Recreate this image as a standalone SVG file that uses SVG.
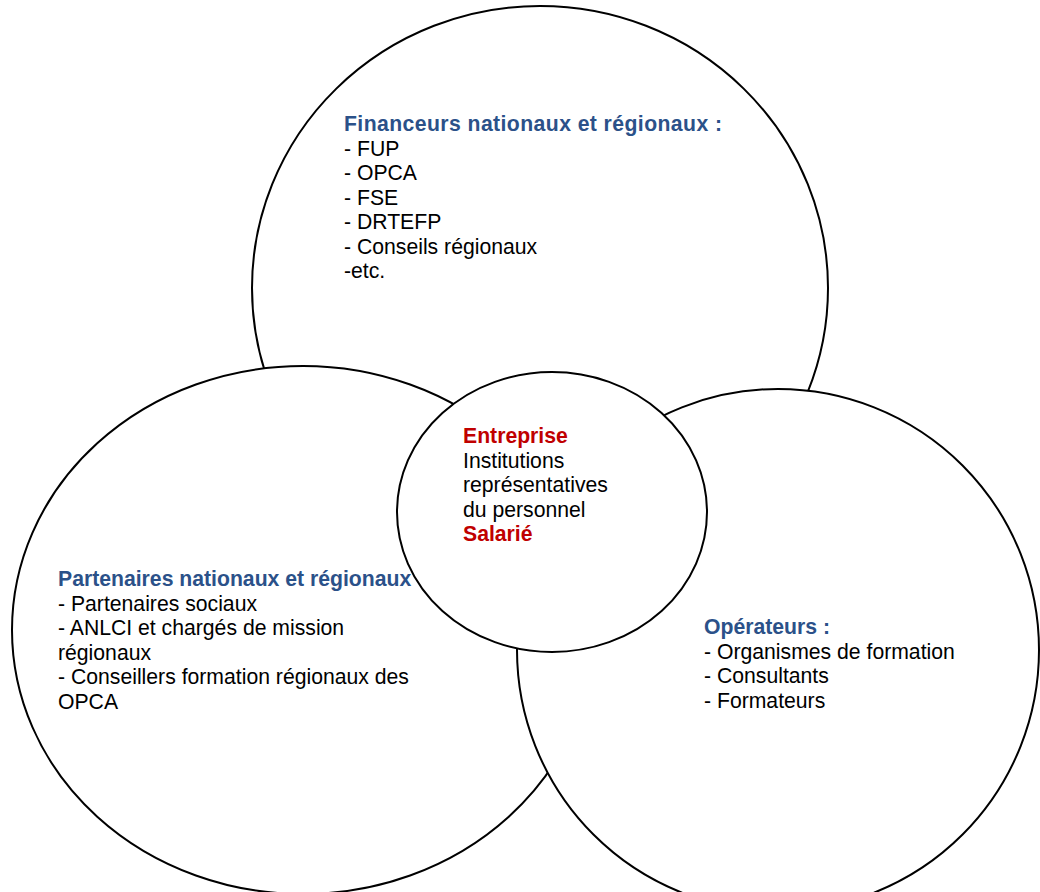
<svg xmlns="http://www.w3.org/2000/svg" width="1040" height="892" viewBox="0 0 1040 892">
<style>
.c{fill:#fff;stroke:#000;stroke-width:2}
text{font-family:"Liberation Sans",Arial,sans-serif;font-size:21.2px;fill:#000}
.h{font-weight:bold;fill:#2B5189}
.r{font-weight:bold;fill:#C00000}
</style>
<rect width="1040" height="892" fill="#fff"/>
<g id="financeurs"><ellipse class="c" cx="540" cy="288" rx="288" ry="282"/></g>
<g id="partenaires"><ellipse class="c" cx="303" cy="630" rx="291" ry="264"/></g>
<g id="operateurs"><ellipse class="c" cx="778" cy="650" rx="261" ry="261"/></g>
<g id="entreprise"><ellipse class="c" cx="552" cy="512" rx="155" ry="140"/></g>
<g id="connectors"></g>
<g id="financeurs-text">
<text x="344" y="131" class="h" textLength="378">Financeurs nationaux et régionaux :</text>
<text x="344" y="155.5">- FUP</text>
<text x="344" y="180">- OPCA</text>
<text x="344" y="204.5">- FSE</text>
<text x="344" y="229">- DRTEFP</text>
<text x="344" y="253.5">- Conseils régionaux</text>
<text x="344" y="278">-etc.</text>
</g>
<g id="entreprise-text">
<text x="463" y="443" class="r">Entreprise</text>
<text x="463" y="467.5">Institutions</text>
<text x="463" y="492">représentatives</text>
<text x="463" y="516.5">du personnel</text>
<text x="463" y="541" class="r">Salarié</text>
</g>
<g id="partenaires-text">
<text x="58" y="586" class="h">Partenaires nationaux et régionaux</text>
<text x="58" y="610.5">- Partenaires sociaux</text>
<text x="58" y="635">- ANLCI et chargés de mission</text>
<text x="58" y="659.5">régionaux</text>
<text x="58" y="684">- Conseillers formation régionaux des</text>
<text x="58" y="708.5">OPCA</text>
</g>
<g id="operateurs-text">
<text x="704" y="634" class="h">Opérateurs :</text>
<text x="704" y="658.5">- Organismes de formation</text>
<text x="704" y="683">- Consultants</text>
<text x="704" y="707.5">- Formateurs</text>
</g>
</svg>
